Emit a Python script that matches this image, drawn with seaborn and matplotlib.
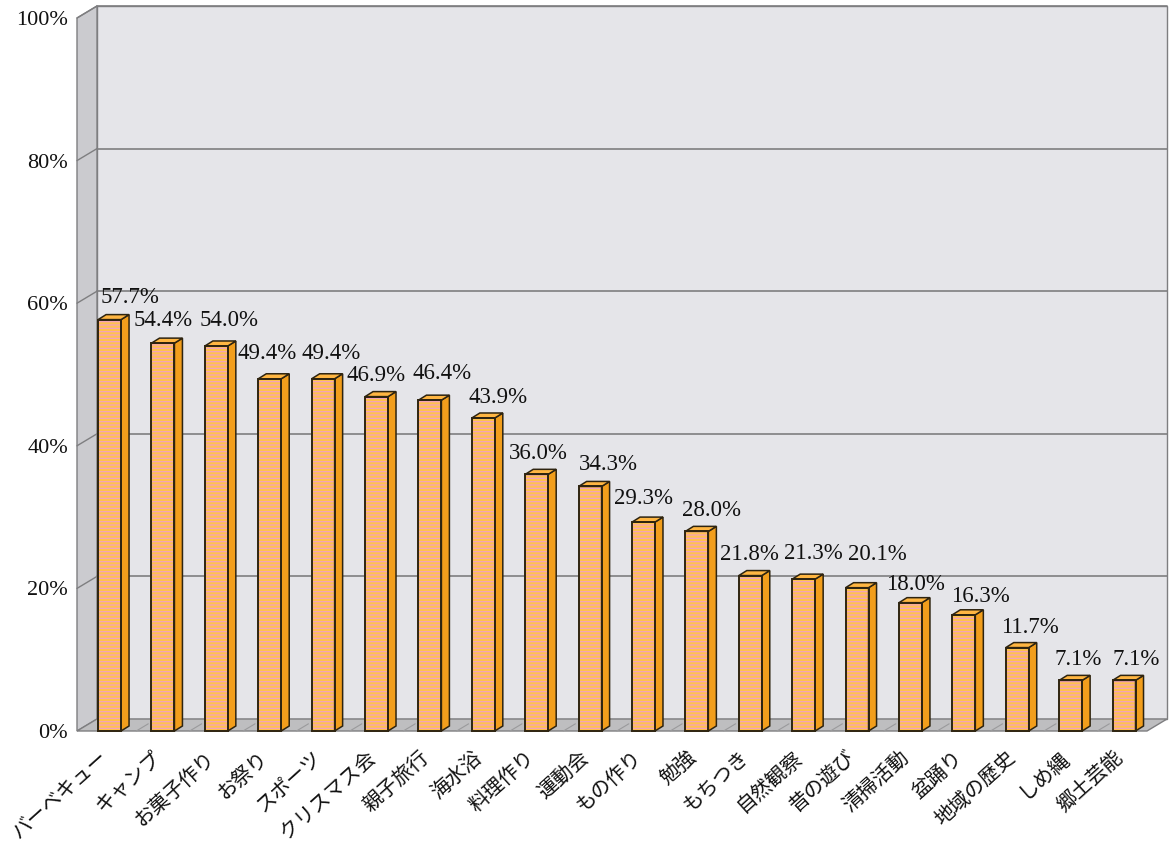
import numpy as np
import pandas as pd
import matplotlib
matplotlib.use('Agg')
import matplotlib.pyplot as plt
import seaborn as sns
from matplotlib.patches import Polygon, Rectangle

# data
categories = ['バーベキュー', 'キャンプ', 'お菓子作り', 'お祭り', 'スポーツ', 'クリスマス会',
              '親子旅行', '海水浴', '料理作り', '運動会', 'もの作り', '勉強', 'もちつき',
              '自然観察', '昔の遊び', '清掃活動', '盆踊り', '地域の歴史', 'しめ縄', '郷土芸能']
values = [57.7, 54.4, 54.0, 49.4, 49.4, 46.9, 46.4, 43.9, 36.0, 34.3,
          29.3, 28.0, 21.8, 21.3, 20.1, 18.0, 16.3, 11.7, 7.1, 7.1]
y_ticks = [0, 20, 40, 60, 80, 100]
y_tick_labels = ['0%', '20%', '40%', '60%', '80%', '100%']

# nudges (px) the original chart applied to value labels so they don't collide
label_dx = [20, 0, 13, -3, 8, 0, 12, 15, 2, 18, 0, 15, -1, 10, 20, 5, 17, 13, 8, 12]
label_dy = [2, 2, 5, 5, 5, 1, 6, 0, 0, 1, 3, 0, 1, 5, 13, -2, -2, 0, 0, 0]

df = pd.DataFrame({'item': categories, 'pct': values})

sns.set_theme(style='white')
plt.rcParams['font.family'] = ['Liberation Serif', 'DejaVu Serif']
plt.rcParams['hatch.linewidth'] = 0.9

front_col = '#FFC24E'
stripe_col = '#F4A2BC'
side_col = '#F29E1C'
top_col = '#FFB642'
edge_col = '#2E2410'
back_wall = '#E5E5E9'
left_wall = '#CBCBCF'
floor_col = '#BEBEC0'
grid_col = '#7E7E80'
text_col = '#111111'

fig = plt.figure(figsize=(11.71, 8.47), dpi=100)
ax = fig.add_axes([77 / 1171, 116 / 847, 1070 / 1171, 713 / 847])

xl, xr = -0.61, 19.43
ax.set_xlim(xl, xr)
ax.set_ylim(0, 100)

# pixel -> data unit helpers (axes box is fixed)
ppx = 1070 / (xr - xl)
ppy = 713 / 100.0
wdx, wdy = 20 / ppx, 12 / ppy   # wall depth
bdx, bdy = 8 / ppx, 5 / ppy     # bar depth
PT = 0.72                       # px -> points at 100 dpi

# walls and floor
ax.add_patch(Polygon([(xl + wdx, wdy), (xr + wdx, wdy), (xr + wdx, 100 + wdy), (xl + wdx, 100 + wdy)],
                     closed=True, facecolor=back_wall, edgecolor=grid_col, lw=1.0, clip_on=False, zorder=0))
ax.add_patch(Polygon([(xl, 0), (xl + wdx, wdy), (xl + wdx, 100 + wdy), (xl, 100)],
                     closed=True, facecolor=left_wall, edgecolor=grid_col, lw=1.0, clip_on=False, zorder=0))
ax.add_patch(Polygon([(xl, 0), (xr, 0), (xr + wdx, wdy), (xl + wdx, wdy)],
                     closed=True, facecolor=floor_col, edgecolor=grid_col, lw=1.0, clip_on=False, zorder=0.5))

for t in y_ticks[1:]:
    ax.plot([xl + wdx, xr + wdx], [t + wdy, t + wdy], color=grid_col, lw=1.2, clip_on=False, zorder=0.6)
    ax.plot([xl, xl + wdx], [t, t + wdy], color=grid_col, lw=1.0, clip_on=False, zorder=0.6)

# little dividers on the floor
for b in np.arange(len(categories) - 1) + 0.5:
    ax.plot([b, b + wdx * 0.6], [0, wdy * 0.6], color='#9A9A9C', lw=0.8, clip_on=False, zorder=0.7)

# front faces
sns.barplot(data=df, x='item', y='pct', ax=ax, color=front_col, width=0.43,
            edgecolor=stripe_col, linewidth=0, hatch='-----', saturation=1, zorder=3)
ax.set_xlim(xl, xr)
ax.set_ylim(0, 100)

for bar in ax.patches[:]:
    if not isinstance(bar, Rectangle) or bar.get_zorder() != 3:
        continue
    x0 = bar.get_x()
    w = bar.get_width()
    h = bar.get_height()
    x1 = x0 + w
    ax.add_patch(Polygon([(x1, 0), (x1 + bdx, bdy), (x1 + bdx, h + bdy), (x1, h)], closed=True,
                         facecolor=side_col, edgecolor=edge_col, lw=1.1, zorder=3.5, clip_on=False))
    ax.add_patch(Polygon([(x0, h), (x1, h), (x1 + bdx, h + bdy), (x0 + bdx, h + bdy)], closed=True,
                         facecolor=top_col, edgecolor=edge_col, lw=1.1, zorder=3.5, clip_on=False))
    ax.add_patch(Rectangle((x0, 0), w, h, facecolor='none', edgecolor=edge_col, lw=1.4,
                           zorder=4, clip_on=False))

# value labels
for i, v in enumerate(values):
    ax.annotate(f'{v:.1f}%', xy=(i, v),
                xytext=(label_dx[i] * PT, (15 + label_dy[i]) * PT), textcoords='offset points',
                ha='center', va='baseline', fontsize=16.5, color=text_col, zorder=5)

# category labels
ax.set_xticks([])
for i, name in enumerate(categories):
    ax.annotate(name, xy=(i, 0), xytext=(-3, -17), textcoords='offset points',
                rotation=42, ha='right', va='center', rotation_mode='anchor',
                fontsize=14.5, color=text_col, annotation_clip=False,
                family=['Noto Sans CJK JP', 'DejaVu Sans'])

ax.set_yticks(y_ticks)
ax.set_yticklabels(y_tick_labels, fontsize=16, color=text_col)
ax.tick_params(axis='y', left=False, length=0, pad=6.5)
ax.set_xlabel('')
ax.set_ylabel('')
for s in ax.spines.values():
    s.set_visible(False)
ax.patch.set_alpha(0)

fig.savefig('out.png', dpi=100, facecolor='white')
